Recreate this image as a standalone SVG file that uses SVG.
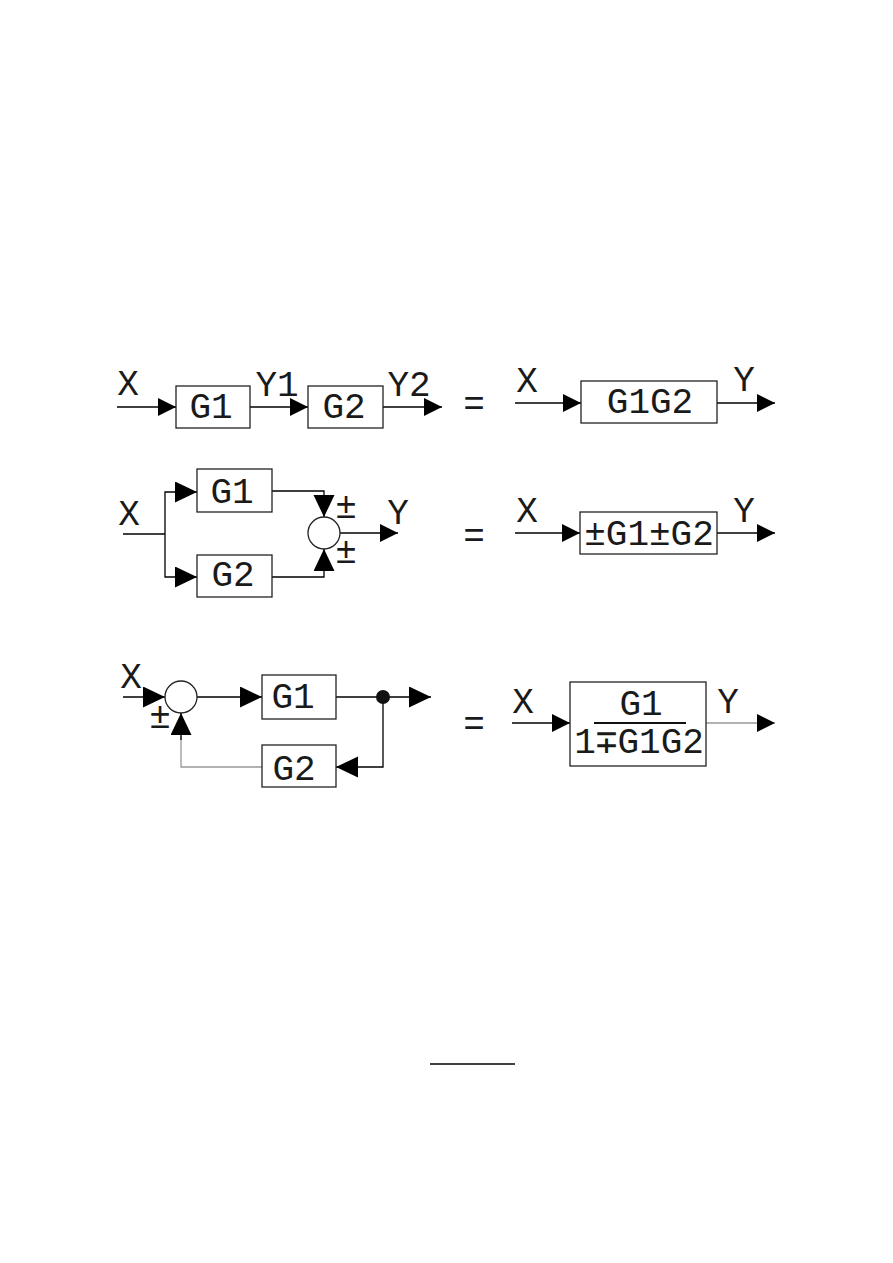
<svg xmlns="http://www.w3.org/2000/svg" width="893" height="1263" viewBox="0 0 893 1263">
<defs>
<marker id="arr" markerUnits="userSpaceOnUse" markerWidth="19" markerHeight="19" refX="18" refY="9" orient="auto">
<path d="M0,0 L18,9 L0,18 z" fill="#000"/>
</marker>
<marker id="arrL" markerUnits="userSpaceOnUse" markerWidth="23" markerHeight="22" refX="22" refY="10.5" orient="auto">
<path d="M0,0 L22,10.5 L0,21 z" fill="#000"/>
</marker>
<style>
.t{font-family:"Liberation Mono","DejaVu Sans Mono",monospace;font-size:36px;fill:#1a1a1a;text-anchor:middle}
.b{fill:#fff;stroke:#222;stroke-width:1.3}
.l{fill:none;stroke:#000;stroke-width:1.3}
.g{fill:none;stroke:#999;stroke-width:1.3}
.a{marker-end:url(#arr)}
.A{marker-end:url(#arrL)}
</style>
</defs>
<rect width="893" height="1263" fill="#fff"/>

<g id="connectors">
<!-- row 1 left -->
<line class="l a" x1="117" y1="407" x2="176" y2="407"/>
<line class="l a" x1="250" y1="407" x2="308" y2="407"/>
<line class="l a" x1="383" y1="407" x2="442" y2="407"/>
<!-- row 1 right -->
<line class="l a" x1="515" y1="403" x2="581" y2="403"/>
<line class="l a" x1="717" y1="403" x2="775" y2="403"/>
<!-- row 2 left -->
<polyline class="l" points="123,534 165,534"/>
<polyline class="l A" points="165,534 165,492 197,492"/>
<polyline class="l A" points="165,534 165,577 197,577"/>
<polyline class="l A" points="272,491 324,491 324,517"/>
<polyline class="l A" points="272,577 324,577 324,549"/>
<line class="l a" x1="340" y1="533" x2="398" y2="533"/>
<!-- row 2 right -->
<line class="l a" x1="515" y1="533" x2="580" y2="533"/>
<line class="l a" x1="717" y1="533" x2="775" y2="533"/>
<!-- row 3 left -->
<line class="l A" x1="123" y1="697" x2="165" y2="697"/>
<line class="l A" x1="197" y1="697" x2="262" y2="697"/>
<line class="l" x1="336" y1="697" x2="383" y2="697"/>
<line class="l A" x1="383" y1="697" x2="431" y2="697"/>
<polyline class="l A" points="383,697 383,767 336,767"/>
<polyline class="g" points="262,767 181,767 181,736"/>
<line class="l A" x1="181" y1="740" x2="181" y2="713"/>
<!-- row 3 right -->
<line class="l a" x1="512" y1="723" x2="570" y2="723"/>
<line class="g a" x1="706" y1="723" x2="775" y2="723"/>
<!-- bottom line -->
<line class="l" x1="430" y1="1064" x2="515" y2="1064" stroke-width="2"/>
</g>

<g id="row1-left">
<text class="t" x="128" y="395">X</text>
<g id="r1-g1"><rect class="b" x="176" y="386" width="74" height="42"/><text class="t" x="211" y="418">G1</text></g>
<text class="t" x="277" y="396">Y1</text>
<g id="r1-g2"><rect class="b" x="308" y="386" width="75" height="42"/><text class="t" x="344" y="418">G2</text></g>
<text class="t" x="409" y="396">Y2</text>
</g>
<text class="t" x="474" y="415">=</text>
<g id="row1-right">
<text class="t" x="527" y="392">X</text>
<g id="r1-g1g2"><rect class="b" x="581" y="381" width="136" height="42"/><text class="t" x="650" y="413">G1G2</text></g>
<text class="t" x="744" y="391">Y</text>
</g>

<g id="row2-left">
<text class="t" x="129" y="525">X</text>
<g id="r2-g1"><rect class="b" x="197" y="469" width="75" height="43"/><text class="t" x="232" y="503">G1</text></g>
<g id="r2-g2"><rect class="b" x="197" y="555" width="75" height="42"/><text class="t" x="233" y="586">G2</text></g>
<g id="r2-sum"><circle cx="324" cy="533" r="16" fill="#fff" stroke="#222" stroke-width="1.3"/></g>
<text class="t" x="346" y="518">±</text>
<text class="t" x="346" y="563">±</text>
<text class="t" x="398" y="524">Y</text>
</g>
<text class="t" x="474" y="547">=</text>
<g id="row2-right">
<text class="t" x="527" y="522">X</text>
<g id="r2-sum-block"><rect class="b" x="580" y="512" width="137" height="42"/><text class="t" x="649" y="545">±G1±G2</text></g>
<text class="t" x="744" y="522">Y</text>
</g>

<g id="row3-left">
<text class="t" x="131" y="688">X</text>
<g id="r3-sum"><circle cx="181" cy="697" r="16" fill="#fff" stroke="#222" stroke-width="1.3"/></g>
<text class="t" x="160" y="728">±</text>
<g id="r3-g1"><rect class="b" x="262" y="675" width="74" height="44"/><text class="t" x="293" y="708">G1</text></g>
<g id="r3-dot"><circle cx="383" cy="697" r="7" fill="#111"/></g>
<g id="r3-g2"><rect class="b" x="262" y="745" width="74" height="42"/><text class="t" x="294" y="780">G2</text></g>
</g>
<text class="t" x="474" y="735">=</text>
<g id="row3-right">
<text class="t" x="523" y="713">X</text>
<g id="r3-closed"><rect class="b" x="570" y="682" width="136" height="84"/>
<text class="t" x="641" y="715">G1</text>
<line x1="594" y1="723" x2="686" y2="723" stroke="#111" stroke-width="2.2"/>
<text class="t" x="639" y="753">1∓G1G2</text></g>
<text class="t" x="728" y="713">Y</text>
</g>
</svg>
